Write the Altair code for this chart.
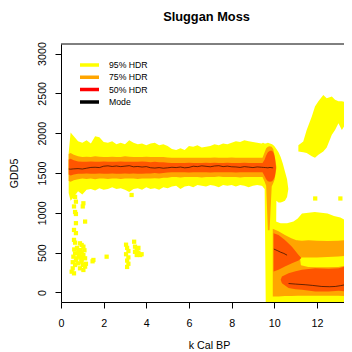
import altair as alt
import pandas as pd

# ---------------- data ----------------
# main plateau band
main_k = [0.36, 0.45, 0.6, 0.8, 1.0, 1.2, 1.4, 1.6, 1.8, 2.0, 2.2, 2.4, 2.6, 2.8, 3.0, 3.2,
          3.4, 3.6, 3.8, 4.0, 4.2, 4.4, 4.6, 4.8, 5.0, 5.2, 5.4, 5.6, 5.8, 6.0, 6.2, 6.4,
          6.6, 6.8, 7.0, 7.2, 7.4, 7.6, 7.8, 8.0, 8.2, 8.4, 8.6, 8.8, 9.0, 9.2, 9.4, 9.5]
hdr95_hi = [1750, 2010, 1960, 1900, 1880, 1910, 1870, 1960, 1950, 1890, 1880, 1900, 1860, 1880, 1860, 1910,
            1880, 1860, 1870, 1850, 1870, 1880, 1850, 1860, 1840, 1800, 1790, 1810, 1790, 1840, 1830, 1850,
            1820, 1830, 1840, 1860, 1850, 1870, 1860, 1880, 1900, 1890, 1910, 1900, 1890, 1880, 1870, 1880]
hdr95_lo = [1250, 1150, 1200, 1270, 1230, 1290, 1300, 1280, 1310, 1290, 1300, 1320, 1300, 1310, 1290, 1260,
            1300, 1310, 1290, 1320, 1300, 1310, 1290, 1320, 1310, 1330, 1340, 1300, 1330, 1340, 1320, 1350,
            1340, 1330, 1350, 1340, 1320, 1350, 1340, 1350, 1330, 1350, 1340, 1320, 1340, 1350, 1340, 1330]
hdr75_hi = [1740, 1750, 1730, 1710, 1700, 1705, 1700, 1710, 1705, 1700, 1700, 1705, 1700, 1700, 1710, 1705,
            1700, 1700, 1700, 1705, 1700, 1700, 1700, 1700, 1695, 1690, 1690, 1690, 1690, 1690, 1690, 1690,
            1690, 1690, 1690, 1695, 1690, 1690, 1690, 1695, 1690, 1690, 1690, 1690, 1690, 1690, 1690, 1690]
hdr75_lo = [1400, 1390, 1410, 1420, 1430, 1425, 1430, 1420, 1430, 1430, 1425, 1430, 1430, 1425, 1430, 1430,
            1430, 1425, 1430, 1430, 1430, 1435, 1430, 1440, 1440, 1450, 1450, 1445, 1450, 1450, 1450, 1450,
            1445, 1450, 1450, 1450, 1455, 1450, 1450, 1450, 1450, 1445, 1450, 1450, 1450, 1450, 1450, 1450]
hdr50_hi = [1670, 1680, 1660, 1645, 1640, 1640, 1645, 1640, 1640, 1645, 1640, 1640, 1640, 1645, 1640, 1640,
            1640, 1640, 1645, 1640, 1635, 1640, 1635, 1635, 1630, 1625, 1625, 1625, 1625, 1630, 1625, 1625,
            1625, 1630, 1625, 1630, 1625, 1625, 1630, 1625, 1625, 1625, 1630, 1625, 1625, 1625, 1625, 1625]
hdr50_lo = [1480, 1470, 1480, 1490, 1490, 1495, 1490, 1490, 1495, 1490, 1490, 1495, 1490, 1490, 1495, 1490,
            1495, 1490, 1490, 1495, 1495, 1500, 1495, 1500, 1505, 1510, 1510, 1510, 1510, 1505, 1510, 1510,
            1510, 1510, 1505, 1510, 1510, 1510, 1510, 1510, 1505, 1510, 1510, 1510, 1510, 1510, 1510, 1510]
mode_main = [1550, 1548, 1552, 1555, 1550, 1560, 1570, 1572, 1568, 1585, 1590, 1582, 1588, 1580, 1586, 1592,
             1578, 1582, 1575, 1580, 1566, 1562, 1568, 1560, 1565, 1572, 1568, 1575, 1565, 1570, 1585, 1580,
             1590, 1584, 1578, 1588, 1592, 1580, 1586, 1578, 1576, 1570, 1580, 1574, 1568, 1576, 1572, 1570]
mode_tail_k = [9.6, 9.7, 9.8, 9.9, 9.95]
mode_tail = [1568, 1565, 1570, 1566, 1565]

# collapse near 10 k: 95% tail / bulge
tail_k = [9.45, 9.55, 9.6, 9.7, 9.8, 9.9, 10.0, 10.05, 10.1, 10.2, 10.3, 10.4, 10.5, 10.6, 10.66]
tail95_hi = [1880, 1870, 1870, 1880, 1870, 1860, 1840, 1820, 1800, 1760, 1700, 1620, 1520, 1420, 1300]
tail95_lo = [1330, 1300, -120, -120, -120, -120, -120, -120, 1150, 1130, 1130, 1140, 1150, 1200, 1300]
bulge75_k = [9.45, 9.55, 9.62, 9.7, 9.78, 9.88, 9.95, 10.02, 10.1]
bulge75_hi = [1690, 1760, 1810, 1830, 1835, 1830, 1800, 1720, 1580]
bulge75_lo = [1450, 1390, 1340, 780, 780, 1330, 1370, 1420, 1560]
bulge50_k = [9.45, 9.55, 9.62, 9.7, 9.8, 9.9, 9.97, 10.03, 10.08]
bulge50_hi = [1625, 1670, 1720, 1760, 1780, 1780, 1750, 1690, 1580]
bulge50_lo = [1510, 1460, 1420, 1395, 1390, 1395, 1420, 1460, 1550]

# late-glacial low region
low95_k = [9.98, 10.3, 10.6, 10.9, 11.1, 11.3, 11.6, 11.9, 12.2, 12.5, 12.8, 13.1, 13.3, 13.52]
low95_hi = [900, 870, 870, 890, 930, 990, 1000, 1010, 1000, 990, 960, 940, 910, 900]
low95_lo = [-120, -120, -120, -120, -120, -120, -120, -120, -120, -120, -120, -120, -120, -120]
up95_k = [11.13, 11.36, 11.52, 11.76, 11.91, 12.07, 12.3, 12.46, 12.7, 12.85, 13.01, 13.17, 13.32, 13.52]
up95_hi = [1850, 1895, 2040, 2210, 2335, 2400, 2480, 2440, 2460, 2420, 2400, 2400, 2390, 2380]
up95_lo = [1770, 1760, 1750, 1710, 1690, 1730, 1770, 1820, 1980, 2040, 2125, 2040, 2105, 2125]
low75_k = [9.93, 10.2, 10.5, 10.8, 11.1, 11.25, 11.6, 12.0, 12.5, 13.0, 13.3, 13.52]
low75_hi = [800, 770, 720, 680, 650, 340, 320, 315, 315, 320, 335, 345]
low75_lo = [-50, -50, -45, -45, -40, -40, -40, -40, -40, -40, -45, -50]
mid75_k = [11.05, 11.3, 11.6, 12.0, 12.5, 13.0, 13.3, 13.52]
mid75_hi = [655, 650, 655, 650, 645, 650, 655, 660]
mid75_lo = [430, 440, 440, 440, 445, 450, 460, 470]
mid50_k = [9.97, 10.2, 10.5, 10.83, 11.14, 11.27]
mid50_hi = [742, 721, 659, 575, 471, 434]
mid50_lo = [263, 284, 325, 367, 400, 434]
low50_k = [10.3, 10.36, 10.67, 11.0, 11.3, 11.92, 12.55, 13.02, 13.33, 13.52]
low50_hi = [160, 200, 242, 265, 284, 305, 296, 305, 325, 346]
low50_lo = [160, 117, 55, 40, 34, 13, 13, 22, 13, -8]
edge_k = [13.42, 13.52]
edge_hi = [300, 320]
edge_lo = [-20, -20]
mode_mid_k = [9.98, 10.15, 10.3, 10.45, 10.6]
mode_mid = [545, 525, 505, 490, 468]
mode_low_k = [10.67, 11.0, 11.45, 11.8, 12.23, 12.6, 12.86, 13.1, 13.33, 13.5]
mode_low = [112, 105, 97, 88, 75, 72, 75, 85, 97, 108]

# isolated 95% HDR cells
dot_k = [0.66, 0.70, 0.61, 0.66, 0.70, 1.05, 1.02, 0.70, 1.13, 0.61, 0.70, 0.61, 0.66,
         0.89, 0.97, 1.05, 0.92, 0.81, 0.66, 0.58, 0.73, 0.89, 1.05, 1.13, 0.97, 0.81, 0.66, 0.55, 0.50,
         0.61, 0.89, 1.05, 1.13, 1.02, 0.97, 1.10, 0.75, 0.55, 1.17, 0.70, 0.84, 0.62, 0.95,
         1.52, 1.48, 2.14, 3.31,
         3.05, 3.10, 3.16, 3.05, 3.16, 3.10, 3.16, 3.10,
         3.43, 3.47, 3.55, 3.63, 3.71, 3.55, 3.47, 3.63, 3.78,
         11.92, 13.1]
dot_v = [1200, 1140, 1080, 1010, 985, 1120, 1080, 870, 890, 785, 745, 660, 625,
         617, 596, 575, 533, 512, 491, 449, 429, 449, 470, 429, 387, 366, 345, 303, 261,
         240, 303, 282, 324, 345, 500, 530, 560, 380, 360, 400, 470, 540, 420,
         408, 391, 449, 1224,
         600, 560, 520, 480, 440, 400, 360, 320,
         637, 575, 540, 500, 470, 470, 510, 560, 480,
         1180, 1180]

legend_labels = ["95% HDR", "75% HDR", "50% HDR", "Mode"]
legend_colors = ["#FFFF00", "#FFA500", "#FF0000", "#000000"]

# ---------------- tables ----------------
def seg(name, k, lo, hi):
    return pd.DataFrame({"k": k, "lo": lo, "hi": hi, "part": name})

y95 = pd.concat([seg("main", main_k, hdr95_lo, hdr95_hi),
                 seg("tail", tail_k, tail95_lo, tail95_hi),
                 seg("low", low95_k, low95_lo, low95_hi),
                 seg("up", up95_k, up95_lo, up95_hi)])
y75 = pd.concat([seg("main", main_k, hdr75_lo, hdr75_hi),
                 seg("bulge", bulge75_k, bulge75_lo, bulge75_hi),
                 seg("low", low75_k, low75_lo, low75_hi),
                 seg("mid", mid75_k, mid75_lo, mid75_hi)])
y50 = pd.concat([seg("main", main_k, hdr50_lo, hdr50_hi),
                 seg("bulge", bulge50_k, bulge50_lo, bulge50_hi),
                 seg("mid", mid50_k, mid50_lo, mid50_hi),
                 seg("low", low50_k, low50_lo, low50_hi)])
edge = seg("edge", edge_k, edge_lo, edge_hi)
dots = pd.DataFrame({"k": dot_k, "v": dot_v})
modes = pd.concat([
    pd.DataFrame({"k": main_k + mode_tail_k, "v": mode_main + mode_tail, "seg": "a"}),
    pd.DataFrame({"k": mode_mid_k, "v": mode_mid, "seg": "b"}),
    pd.DataFrame({"k": mode_low_k, "v": mode_low, "seg": "c"}),
])
modes["lab"] = "Mode"

FONT = "Liberation Sans"
W, H = 283, 258
xscale = alt.Scale(domain=[0, 13.27], nice=False, zero=False)
yscale = alt.Scale(domain=[-120, 3120], nice=False, zero=False)
xaxis = alt.Axis(values=[0, 2, 4, 6, 8, 10, 12], format="d", title="k Cal BP", tickSize=6,
                 labelBaseline="alphabetic", labelPadding=18, labelAlign="center",
                 titleX=148, titleY=46, titleBaseline="alphabetic", titleAlign="center")
yaxis = alt.Axis(values=[0, 500, 1000, 1500, 2000, 2500, 3000], format="d", title="GDD5", tickSize=6,
                 labelAngle=270, labelAlign="center", labelBaseline="alphabetic", labelPadding=10,
                 titleAngle=270, titleX=-44, titleY=129, titleBaseline="alphabetic",
                 titleAlign="center")


def X():
    return alt.X("k:Q", scale=xscale, axis=xaxis)


def area(df, color):
    return alt.Chart(df).mark_area(color=color, opacity=1, clip=True, strokeWidth=0).encode(
        x=X(), y=alt.Y("hi:Q", scale=yscale, axis=yaxis), y2="lo:Q", detail="part:N")


layer_y = area(y95, "#FFFF00")
layer_d = alt.Chart(dots).mark_square(size=18, color="#FFFF00", opacity=1, clip=True).encode(
    x=X(), y=alt.Y("v:Q", scale=yscale, axis=yaxis))
layer_o = area(y75, "#FFA500")
layer_r = area(y50, "#FF5500")
layer_e = area(edge, "#FF0000")
layer_m = alt.Chart(modes).mark_line(strokeWidth=0.7, opacity=0.85, clip=True).encode(
    x=X(), y=alt.Y("v:Q", scale=yscale, axis=yaxis), detail="seg:N",
    color=alt.Color("lab:N", scale=alt.Scale(domain=legend_labels, range=legend_colors),
                    legend=alt.Legend(title=None, orient="none", legendX=17, legendY=15,
                                      symbolType="stroke", symbolSize=361, symbolStrokeWidth=3.5,
                                      symbolOpacity=1,
                                      labelFont=FONT, labelFontSize=8.7, labelColor="black",
                                      labelOffset=8, clipHeight=12, rowPadding=0.3, padding=0)))
# top frame line of the plot box (the box continues past the right edge of the picture)
layer_top = alt.Chart(pd.DataFrame({"k": [0]})).mark_rule(color="black", strokeWidth=1).encode(
    x=alt.value(0), x2=alt.value(W), y=alt.value(0))

chart = alt.layer(layer_y, layer_d, layer_o, layer_r, layer_e, layer_m, layer_top).properties(
    width=W, height=H,
    autosize=alt.AutoSizeParams(type="none"),
    padding={"left": 53, "top": 36, "right": 0, "bottom": 50},
    title=alt.Title("Sluggan Moss", font=FONT, fontSize=12.8, fontWeight="bold", color="black",
                    anchor="middle", frame="group", offset=8, baseline="alphabetic", dx=4),
).configure_view(stroke=None).configure_axis(
    domain=True, domainColor="black", domainWidth=1, grid=False, tickColor="black", tickWidth=1,
    labelFont=FONT, labelFontSize=10.7, labelColor="black",
    titleFont=FONT, titleFontSize=10.7, titleFontWeight="normal", titleColor="black",
)

chart.save("out.html", embed_options={"renderer": "svg", "actions": False})
